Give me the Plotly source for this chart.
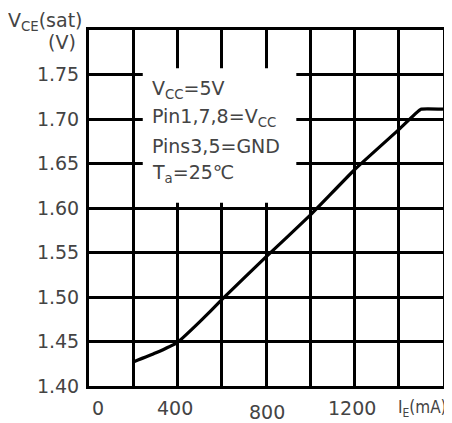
import plotly.graph_objects as go

# Data
ie_ma = [200, 300, 400, 500, 600, 800, 1000, 1200, 1400, 1500, 1600]
vce_sat = [1.427, 1.437, 1.449, 1.472, 1.497, 1.545, 1.592, 1.643, 1.688, 1.711, 1.711]

ytick_vals = [1.40, 1.45, 1.50, 1.55, 1.60, 1.65, 1.70, 1.75]
ytick_text = ["1.40", "1.45", "1.50", "1.55", "1.60", "1.65", "1.70", "1.75"]
xlabel_vals = [0, 400, 800, 1200]
xlabel_text = ["0", "400", "800", "1200"]
cond_lines = ["V<sub>CC</sub>=5V", "Pin1,7,8=V<sub>CC</sub>", "Pins3,5=GND", "T<sub>a</sub>=25\u2103"]
cond_y = [1.7326, 1.7017, 1.6702, 1.6393]

FONT = "DejaVu Sans"
TXT = "#444444"

fig = go.Figure()
fig.add_trace(go.Scatter(x=ie_ma, y=vce_sat, mode="lines", line_shape="spline",
                         line=dict(color="black", width=3.2, smoothing=0.3),
                         hoverinfo="skip", showlegend=False))

fig.update_xaxes(range=[0, 1600], showgrid=True, gridcolor="black", gridwidth=3,
                 dtick=200, tick0=0, showticklabels=False, ticks="", zeroline=False,
                 showline=True, linecolor="black", linewidth=3, mirror=True)
fig.update_yaxes(range=[1.40, 1.80], showgrid=True, gridcolor="black", gridwidth=3,
                 tickvals=ytick_vals, ticktext=ytick_text, ticks="", zeroline=False,
                 showline=True, linecolor="black", linewidth=3, mirror=True,
                 tickfont=dict(family=FONT, size=19, color=TXT), ticklabelstandoff=3)

# white box behind the test-condition text
fig.add_shape(type="rect", xref="x", yref="y", x0=243, x1=937, y0=1.606, y1=1.757,
              fillcolor="white", line=dict(width=0), layer="above")

for t, yv in zip(cond_lines, cond_y):
    fig.add_annotation(x=275, y=yv, xref="x", yref="y", text=t, showarrow=False,
                       xanchor="left", yanchor="middle",
                       font=dict(family=FONT, size=19, color=TXT))

xshifts = [9, -3, 1, -3]
yshifts = [-22, -22, -26, -22]
for v, t, xs, ys in zip(xlabel_vals, xlabel_text, xshifts, yshifts):
    fig.add_annotation(x=v, y=1.40, xref="x", yref="y", text=t, showarrow=False,
                       xanchor="center", yanchor="middle", xshift=xs, yshift=ys,
                       font=dict(family=FONT, size=19, color=TXT))
fig.add_annotation(x=1600, y=1.40, xref="x", yref="y", text="I<sub>E</sub>(mA)",
                   showarrow=False, xanchor="right", yanchor="middle",
                   xshift=6, yshift=-22,
                   font=dict(family="DejaVu Sans Condensed", size=17, color=TXT))

fig.add_annotation(x=-0.124, y=1.024, xref="paper", yref="paper",
                   text="V<sub>CE</sub>(sat)", showarrow=False,
                   xanchor="center", yanchor="middle",
                   font=dict(family=FONT, size=19, color=TXT))
fig.add_annotation(x=-0.076, y=0.966, xref="paper", yref="paper",
                   text="(V)", showarrow=False, xanchor="center", yanchor="middle",
                   font=dict(family=FONT, size=19, color=TXT))

# page body has an 8px margin, so the figure is 8px smaller than the window
fig.update_layout(width=444, height=415,
                  margin=dict(l=81, r=6, t=22, b=37),
                  paper_bgcolor="white", plot_bgcolor="white")

fig.write_html("out.html")
